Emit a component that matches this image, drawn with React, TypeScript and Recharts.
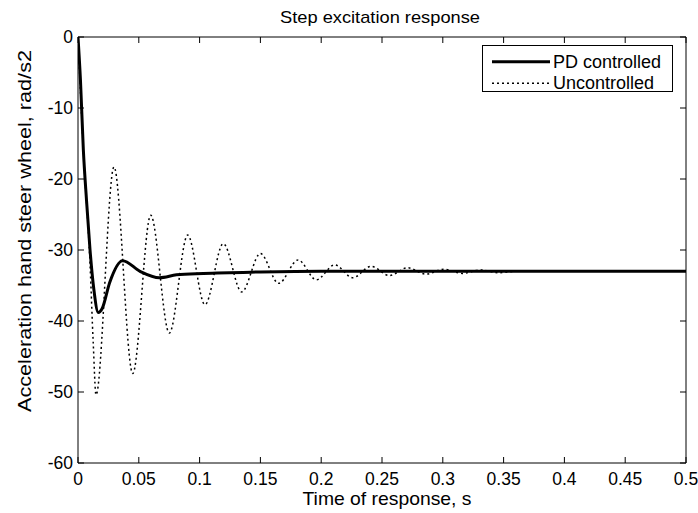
import React from 'react';
import { LineChart, Line, XAxis, YAxis, Legend, Label } from 'recharts';

const FONT = '"Liberation Sans", Arial, Helvetica, sans-serif';

const chartTitle = 'Step excitation response';
const xLabel = 'Time of response, s';
const yLabel = 'Acceleration hand steer wheel, rad/s2';
const pdName = 'PD controlled';
const unName = 'Uncontrolled';

const xTicks = [0, 0.05, 0.1, 0.15, 0.2, 0.25, 0.3, 0.35, 0.4, 0.45, 0.5];
const yTicks = [0, -10, -20, -30, -40, -50, -60];

const pdTimes = [0, 0.002, 0.0044, 0.007, 0.0099, 0.013, 0.0167, 0.02, 0.026, 0.0367, 0.051, 0.067, 0.081, 0.103, 0.15, 0.2, 0.5];
const pdValues = [0, -6, -15.9, -23, -30, -35.5, -38.8, -38.2, -34.6, -31.5, -33.0, -33.9, -33.5, -33.3, -33.1, -33.0, -33.0];

const unTimes = [0, 0.0044, 0.0099, 0.0125, 0.0148, 0.0296, 0.045, 0.0598, 0.0751, 0.0902, 0.1044, 0.1195, 0.1346, 0.150, 0.165, 0.181, 0.196, 0.211, 0.226, 0.241, 0.256, 0.271, 0.286, 0.301, 0.316, 0.331, 0.346, 0.361, 0.5];
const unValues = [0, -15.9, -32, -43, -50.4, -18.3, -47.4, -25.1, -41.7, -27.9, -37.7, -29.1, -35.9, -30.5, -34.7, -31.4, -34.2, -32.1, -33.9, -32.3, -33.6, -32.5, -33.4, -32.7, -33.3, -32.8, -33.2, -33.0, -33.0];

const pdData = pdTimes.map((t, i) => ({ t, v: pdValues[i] }));
const unData = unTimes.map((t, i) => ({ t, v: unValues[i] }));

const fmt = (v: number) => String(parseFloat(Number(v).toFixed(2)));

const textStyle = { fontFamily: FONT, fill: '#000' };

const BottomTick = (p: any) => {
  const { x, y, payload } = p;
  return (
    <g>
      <line x1={x} y1={y} x2={x} y2={y - 6} stroke="#000" strokeWidth={1} />
      <text x={x} y={y + 21.5} textAnchor="middle" fontSize={17.5} {...textStyle}>{fmt(payload.value)}</text>
    </g>
  );
};
const TopTick = (p: any) => {
  const { x, y } = p;
  return <line x1={x} y1={y} x2={x} y2={y + 6} stroke="#000" strokeWidth={1} />;
};
const LeftTick = (p: any) => {
  const { x, y, payload } = p;
  return (
    <g>
      <line x1={x} y1={y} x2={x + 6} y2={y} stroke="#000" strokeWidth={1} />
      <text x={x - 5} y={y + 6} textAnchor="end" fontSize={17.5} {...textStyle}>{fmt(payload.value)}</text>
    </g>
  );
};
const RightTick = (p: any) => {
  const { x, y } = p;
  return <line x1={x} y1={y} x2={x - 6} y2={y} stroke="#000" strokeWidth={1} />;
};

const XLabelContent = (p: any) => {
  const vb = p.viewBox || {};
  return (
    <text x={vb.x + vb.width / 2 + 5} y={vb.y + 42} textAnchor="middle" fontSize={19} textLength={169} lengthAdjust="spacingAndGlyphs" {...textStyle}>{xLabel}</text>
  );
};
const TitleContent = (p: any) => {
  const vb = p.viewBox || {};
  return (
    <text x={vb.x + vb.width / 2 - 2} y={vb.y + vb.height - 14} textAnchor="middle" fontSize={17} textLength={200} lengthAdjust="spacingAndGlyphs" {...textStyle}>{chartTitle}</text>
  );
};
const YLabelContent = (p: any) => {
  const vb = p.viewBox || {};
  const cx = vb.x + 13;
  const cy = vb.y + vb.height / 2 - 19;
  return (
    <text x={cx} y={cy} transform={`rotate(-90, ${cx}, ${cy})`} textAnchor="middle" fontSize={19} textLength={362} lengthAdjust="spacingAndGlyphs" {...textStyle}>{yLabel}</text>
  );
};

const LegendBox = () => (
  <svg width={200} height={54} style={{ display: 'block', overflow: 'visible' }}>
    <rect x={0.5} y={0.5} width={190} height={46} fill="#fff" stroke="#000" strokeWidth={1} />
    <line x1={10} x2={68} y1={16.7} y2={16.7} stroke="#000" strokeWidth={3} />
    <text x={71} y={23} fontSize={18} {...textStyle}>{pdName}</text>
    <line x1={10} x2={68} y1={38.3} y2={38.3} stroke="#000" strokeWidth={1.5} strokeDasharray="2 3" />
    <text x={71} y={44.4} fontSize={18} {...textStyle}>{unName}</text>
  </svg>
);

export default function App() {
  return (
    <div style={{ position: 'absolute', left: 0, top: 0, width: 698, height: 513, background: '#fff' }}>
      <LineChart width={698} height={513} margin={{ top: 36, right: 11, bottom: 1, left: 18 }}>
        <XAxis xAxisId="b" dataKey="t" type="number" domain={[0, 0.5]} ticks={xTicks} interval={0}
          orientation="bottom" height={49} tickSize={0} tickMargin={0} tickLine={false}
          axisLine={{ stroke: '#000', strokeWidth: 1 }} tick={BottomTick} allowDataOverflow>
          <Label content={XLabelContent} />
        </XAxis>
        <XAxis xAxisId="top" dataKey="t" type="number" domain={[0, 0.5]} ticks={xTicks} interval={0}
          orientation="top" height={1} tickSize={0} tickMargin={0} tickLine={false}
          axisLine={{ stroke: '#000', strokeWidth: 1 }} tick={TopTick} allowDataOverflow>
          <Label content={TitleContent} />
        </XAxis>
        <YAxis yAxisId="l" type="number" domain={[-60, 0]} ticks={yTicks} interval={0}
          orientation="left" width={60} tickSize={0} tickMargin={0} tickLine={false}
          axisLine={{ stroke: '#000', strokeWidth: 1 }} tick={LeftTick} allowDataOverflow>
          <Label content={YLabelContent} />
        </YAxis>
        <YAxis yAxisId="r" type="number" domain={[-60, 0]} ticks={yTicks} interval={0}
          orientation="right" width={1} tickSize={0} tickMargin={0} tickLine={false}
          axisLine={{ stroke: '#000', strokeWidth: 1 }} tick={RightTick} allowDataOverflow />
        <Legend verticalAlign="middle" align="center" layout="horizontal" content={LegendBox}
          wrapperStyle={{ position: 'absolute', left: 482, top: 45, width: 200, height: 54 }} />
        <Line xAxisId="b" yAxisId="l" data={unData} dataKey="v" name={unName} type="monotone"
          stroke="#000" strokeWidth={1.5} strokeDasharray="2 3" dot={false} activeDot={false} isAnimationActive={false} />
        <Line xAxisId="b" yAxisId="l" data={pdData} dataKey="v" name={pdName} type="monotone"
          stroke="#000" strokeWidth={3} dot={false} activeDot={false} isAnimationActive={false} />
      </LineChart>
    </div>
  );
}
